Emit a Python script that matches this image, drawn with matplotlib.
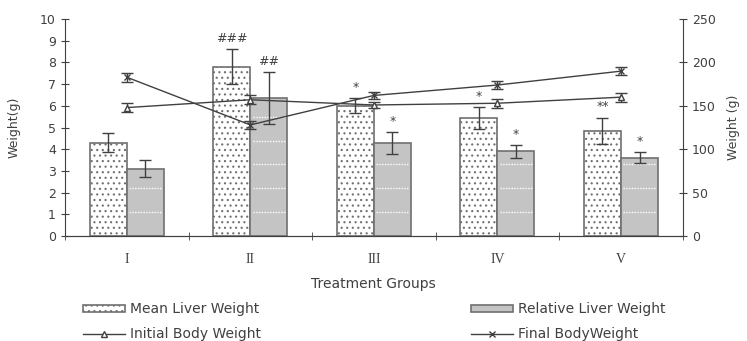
#!/usr/bin/env python3

import matplotlib.pyplot as plt
import numpy as np
from matplotlib.lines import Line2D

plt.rcParams["hatch.linewidth"] = 0.8

# Grupos de tratamento
groups = ["I", "II", "III", "IV", "V"]

# Pesos do fígado (g) - eixo esquerdo
mean_liver = [4.3, 7.8, 6.0, 5.45, 4.85]
mean_liver_err = [0.45, 0.8, 0.35, 0.5, 0.6]
rel_liver = [3.1, 6.35, 4.3, 3.9, 3.6]
rel_liver_err = [0.4, 1.2, 0.5, 0.3, 0.25]

# Pesos corporais (g) - eixo direito
initial_bw = [148, 157, 151, 153, 160]
initial_bw_err = [5, 5, 4, 5, 5]
final_bw = [183, 128, 162, 174, 190]
final_bw_err = [5, 5, 4, 5, 5]

# Marcas de significância
mean_marks = ["", "###", "*", "*", "**"]
rel_marks = ["", "##", "*", "*", "*"]

fig = plt.figure(figsize=(7.47, 3.41), dpi=100)
ax = fig.add_axes([0.087, 0.308, 0.827, 0.636])
ax2 = ax.twinx()

x = np.arange(len(groups))
w = 0.3
edge = "#707070"
dark = "#404040"

b1 = ax.bar(x - w / 2, mean_liver, w, color="white", edgecolor=edge, hatch="...",
            linewidth=1.2, zorder=2)
b2 = ax.bar(x + w / 2, rel_liver, w, color="#c4c4c4", edgecolor=edge, linewidth=1.2,
            zorder=2)
# linhas pontilhadas brancas dentro das barras cinzentas
for xi, v in zip(x, rel_liver):
    for yl in np.arange(1.1, v, 1.1):
        ax.plot([xi + 0.02, xi + w - 0.02], [yl, yl], color="white", lw=1.0,
                ls=(0, (1, 1)), zorder=3)
ax.errorbar(x - w / 2, mean_liver, yerr=mean_liver_err, fmt="none", ecolor=dark,
            elinewidth=1.0, capsize=4, zorder=4)
ax.errorbar(x + w / 2, rel_liver, yerr=rel_liver_err, fmt="none", ecolor=dark,
            elinewidth=1.0, capsize=4, zorder=4)

for xi, v, e, m in zip(x, mean_liver, mean_liver_err, mean_marks):
    if m:
        ax.text(xi - w / 2, v + e + 0.2, m, ha="center", va="bottom", fontsize=9,
                color=dark, style="italic")
for xi, v, e, m in zip(x, rel_liver, rel_liver_err, rel_marks):
    if m:
        ax.text(xi + w / 2, v + e + 0.2, m, ha="center", va="bottom", fontsize=9,
                color=dark, style="italic")

ax2.errorbar(x, initial_bw, yerr=initial_bw_err, color=dark, lw=1.0,
             marker="^", ms=4, mfc="white", mec=dark, capsize=4, zorder=5)
ax2.errorbar(x, final_bw, yerr=final_bw_err, color=dark, lw=1.0,
             marker="x", ms=4, capsize=4, zorder=5)

ax.set_xlim(-0.5, len(groups) - 0.5)
ax.set_ylim(0, 10)
ax2.set_ylim(0, 250)
ax.set_yticks(np.arange(0, 11, 1))
ax2.set_yticks(np.arange(0, 251, 50))
ax.set_xticks(x)
ax.set_xticklabels(groups, family="Liberation Serif", fontsize=10)
ax.set_xticks(np.arange(-0.5, len(groups), 1), minor=True)
ax.tick_params(axis="x", which="major", length=0, pad=12, labelcolor=dark)
ax.tick_params(axis="x", which="minor", direction="inout", length=6, color=dark)
ax.tick_params(axis="y", direction="inout", length=6, labelsize=9, color=dark,
               labelcolor=dark)
ax2.tick_params(axis="y", direction="inout", length=6, labelsize=9, color=dark,
                labelcolor=dark)

for a in (ax, ax2):
    a.spines["top"].set_visible(False)
    for s in ("left", "right", "bottom"):
        a.spines[s].set_color(dark)
ax.spines["right"].set_visible(False)
ax2.spines["left"].set_visible(False)

ax.set_ylabel("Weight(g)", fontsize=9, color=dark, labelpad=14)
ax2.set_ylabel("Weight (g)", fontsize=9, color=dark, rotation=90, labelpad=8)
ax.set_xlabel("Treatment Groups", fontsize=10, color=dark, labelpad=8)

h_init = Line2D([], [], color=dark, lw=1.0, marker="^", ms=4, mfc="white", mec=dark)
h_final = Line2D([], [], color=dark, lw=1.0, marker="x", ms=4)
leg_kw = dict(loc="center left", frameon=False, fontsize=10, handlelength=3.0,
              handleheight=0.4, labelspacing=0.75, borderaxespad=0, borderpad=0,
              handletextpad=0.35, labelcolor=dark)
leg1 = fig.legend([b1, h_init], ["Mean Liver Weight", "Initial Body Weight"],
                  bbox_to_anchor=(83 / 747, 0.057), **leg_kw)
fig.legend([b2, h_final], ["Relative Liver Weight", "Final BodyWeight"],
           bbox_to_anchor=(471 / 747, 0.057), **leg_kw)

plt.savefig("out.png", dpi=100)
